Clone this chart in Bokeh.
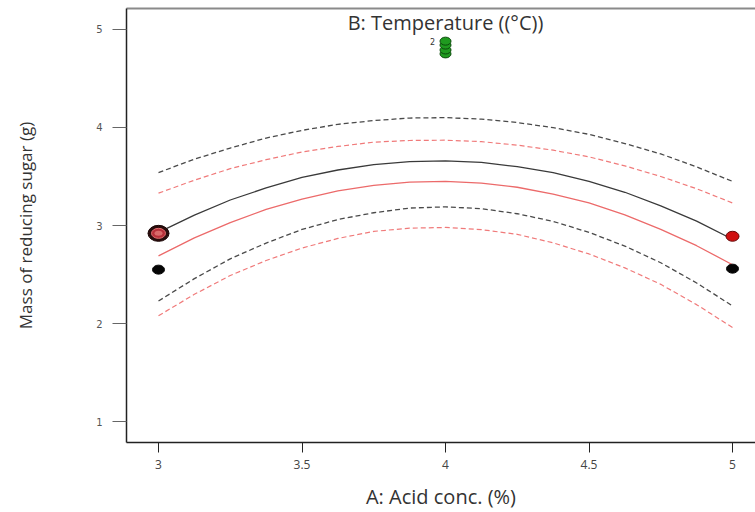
from bokeh.plotting import figure
from bokeh.models import Range1d, FixedTicker, LinearAxis, Label
from bokeh.core.properties import value
from bokeh.embed import file_html
from bokeh.resources import INLINE

# ---- data ----
acid = [3.0, 3.125, 3.25, 3.375, 3.5, 3.625, 3.75, 3.875, 4.0,
        4.125, 4.25, 4.375, 4.5, 4.625, 4.75, 4.875, 5.0]
pred_black = [2.93, 3.105, 3.26, 3.383, 3.49, 3.566, 3.62, 3.652, 3.66,
              3.644, 3.60, 3.539, 3.45, 3.339, 3.20, 3.044, 2.86]
ci_black_hi = [3.54, 3.676, 3.79, 3.892, 3.97, 4.032, 4.07, 4.096, 4.10,
               4.085, 4.05, 3.998, 3.93, 3.836, 3.73, 3.597, 3.45]
ci_black_lo = [2.23, 2.458, 2.66, 2.821, 2.96, 3.061, 3.13, 3.178, 3.19,
               3.172, 3.12, 3.042, 2.93, 2.790, 2.62, 2.414, 2.18]
pred_red = [2.69, 2.873, 3.03, 3.164, 3.27, 3.354, 3.41, 3.443, 3.45,
            3.432, 3.39, 3.320, 3.23, 3.108, 2.96, 2.794, 2.60]
ci_red_hi = [3.33, 3.462, 3.58, 3.671, 3.75, 3.806, 3.85, 3.867, 3.87,
             3.855, 3.82, 3.768, 3.70, 3.608, 3.50, 3.375, 3.23]
ci_red_lo = [2.08, 2.298, 2.49, 2.643, 2.77, 2.868, 2.94, 2.973, 2.98,
             2.958, 2.91, 2.823, 2.71, 2.568, 2.40, 2.193, 1.96]

black_pts_x = [3.0, 5.0]
black_pts_y = [2.55, 2.56]
red_pts_x = [5.0]
red_pts_y = [2.89]
ring_pts_x = [3.0]
ring_pts_y = [2.92]
green_pts_x = [4.0, 4.0, 4.0, 4.0]
green_pts_y = [4.75, 4.79, 4.84, 4.88]
count_x = [4.0]
count_y = [4.88]
count_text = ["2"]

x_ticks = [3, 3.5, 4, 4.5, 5]
x_tick_labels = {3: "3", 3.5: "3.5", 4: "4", 4.5: "4.5", 5: "5"}
y_ticks = [1, 2, 3, 4, 5]

p = figure(width=755, height=512, output_backend="svg", toolbar_location=None,
           x_range=Range1d(2.8885, 5.0801), y_range=Range1d(0.787, 5.213),
           min_border_left=126, min_border_right=0, min_border_top=8,
           min_border_bottom=68)
p.background_fill_color = "white"
p.border_fill_color = "white"
p.outline_line_color = None
p.grid.visible = False

xa = p.below[0]
ya = p.left[0]

# top border as an axis line
top = LinearAxis(ticker=FixedTicker(ticks=[]), axis_line_color="#8a8a8a",
                 axis_line_width=2, major_tick_out=0, major_tick_in=0,
                 minor_tick_out=0, minor_tick_in=0,
                 major_label_text_font_size="0px", major_label_standoff=0)
p.add_layout(top, "above")

xa.ticker = FixedTicker(ticks=x_ticks)
xa.major_label_overrides = x_tick_labels
xa.axis_line_color = "#222222"
xa.axis_line_width = 1.5
xa.major_tick_out = 10
xa.major_tick_in = 0
xa.major_tick_line_color = "#222222"
xa.minor_tick_out = 0
xa.minor_tick_in = 0
xa.major_label_text_font = "Open Sans"
xa.major_label_text_font_size = "12px"
xa.major_label_text_color = "#444444"
xa.major_label_standoff = 7
xa.axis_label = "A: Acid conc. (%)"
xa.axis_label_text_font = "Open Sans"
xa.axis_label_text_font_size = "20px"
xa.axis_label_text_font_style = "normal"
xa.axis_label_text_color = "#333333"
xa.axis_label_standoff = 11

ya.ticker = FixedTicker(ticks=y_ticks)
ya.axis_line_color = "#222222"
ya.axis_line_width = 1.5
ya.major_tick_out = 14
ya.major_tick_in = 0
ya.major_tick_line_color = "#666666"
ya.minor_tick_out = 0
ya.minor_tick_in = 0
ya.major_label_text_font = "DejaVu Sans"
ya.major_label_text_font_size = "10px"
ya.major_label_text_color = "#555555"
ya.major_label_standoff = 10
ya.axis_label = "Mass of reducing sugar (g)"
ya.axis_label_text_font = "Open Sans"
ya.axis_label_text_font_size = "17px"
ya.axis_label_text_font_style = "normal"
ya.axis_label_text_color = "#333333"
ya.axis_label_standoff = 56

# curves
p.line(acid, ci_black_hi, line_color="#4a4a4a", line_width=1.3, line_dash="5 3")
p.line(acid, ci_red_hi, line_color="#f07a7a", line_width=1.2, line_dash="5 3")
p.line(acid, pred_black, line_color="#3a3a3a", line_width=1.3)
p.line(acid, pred_red, line_color="#ec6a6a", line_width=1.3)
p.line(acid, ci_black_lo, line_color="#4a4a4a", line_width=1.3, line_dash="5 3")
p.line(acid, ci_red_lo, line_color="#f07a7a", line_width=1.2, line_dash="5 3")

# design points
p.ellipse(black_pts_x, black_pts_y, width=12, height=9, width_units="screen",
          height_units="screen", fill_color="#050505", line_color="#050505")
p.ellipse(red_pts_x, red_pts_y, width=13, height=10, width_units="screen",
          height_units="screen", fill_color="#d01010", line_color="#6a0a0a")
p.ellipse(ring_pts_x, ring_pts_y, width=21, height=16, width_units="screen",
          height_units="screen", fill_color="#2a0c0c", line_color="#1a0505")
p.ellipse(ring_pts_x, ring_pts_y, width=14, height=10, width_units="screen",
          height_units="screen", fill_color="#b8303a", line_color="#e07070")
p.ellipse(ring_pts_x, ring_pts_y, width=8, height=5, width_units="screen",
          height_units="screen", fill_color="#d86a6a", line_color=None)
p.ellipse(green_pts_x, green_pts_y, width=11, height=8, width_units="screen",
          height_units="screen", fill_color="#1f9a1f", line_color="#0a4a0a")
p.text(count_x, count_y, text=count_text, x_offset=-13, text_font=value("DejaVu Sans"),
       text_font_size="8px", text_color="#333333", text_align="center",
       text_baseline="middle")

title = Label(x=4.0, y=5.07, text="B: Temperature ((°C))", text_font="Open Sans",
              text_font_size="20px", text_color="#333333", text_align="center",
              text_baseline="middle")
p.add_layout(title)

open("out.html", "w").write(file_html(p, INLINE))
